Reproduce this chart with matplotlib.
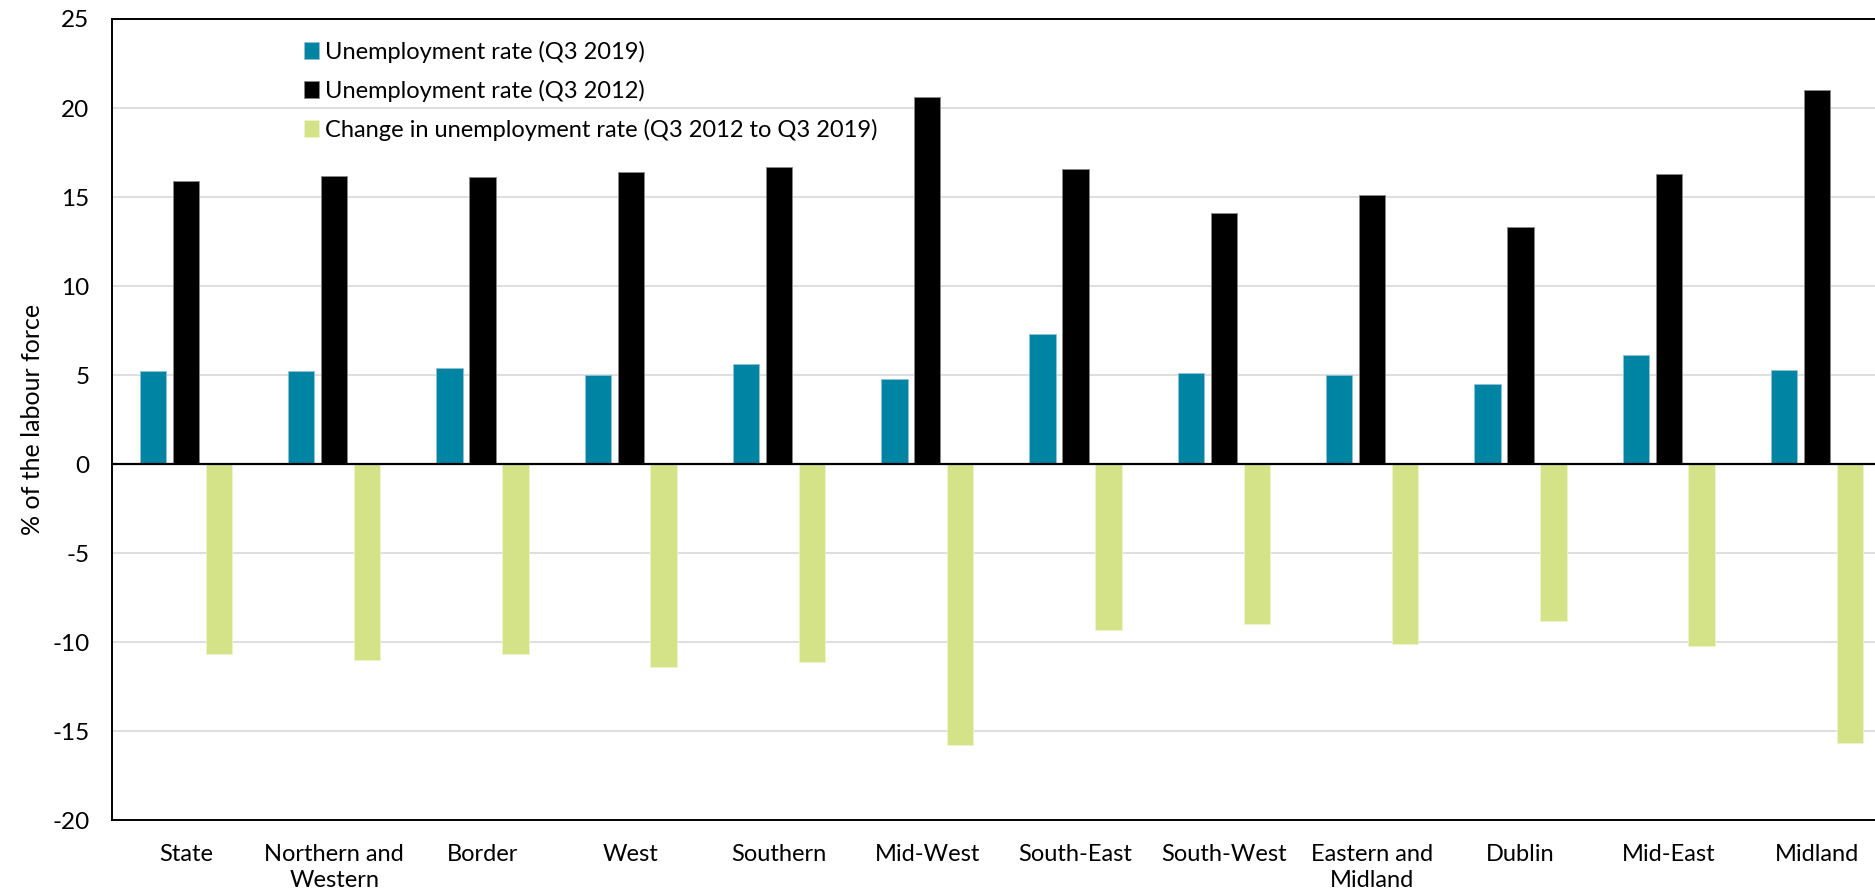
import numpy as np
import matplotlib
matplotlib.use("Agg")
import matplotlib.pyplot as plt

plt.rcParams['font.family'] = ['Lato', 'DejaVu Sans']
plt.rcParams['axes.unicode_minus'] = False

regions = ["State", "Northern and\nWestern", "Border", "West", "Southern", "Mid-West",
           "South-East", "South-West", "Eastern and\nMidland", "Dublin", "Mid-East", "Midland"]
rate_2019 = [5.2, 5.2, 5.4, 5.0, 5.6, 4.8, 7.3, 5.1, 5.0, 4.5, 6.1, 5.3]
rate_2012 = [15.9, 16.2, 16.1, 16.4, 16.7, 20.6, 16.6, 14.1, 15.1, 13.3, 16.3, 21.0]
change = [-10.7, -11.0, -10.7, -11.4, -11.1, -15.8, -9.3, -9.0, -10.1, -8.8, -10.2, -15.7]
series_names = ["Unemployment rate (Q3 2019)", "Unemployment rate (Q3 2012)",
                "Change in unemployment rate (Q3 2012 to Q3 2019)"]

fig = plt.figure(figsize=(18.75, 8.92), dpi=100)
# axes runs slightly past the right edge, like the source crop
ax = fig.add_axes([0.0596, 0.0807, 0.949, 0.898])

x = np.arange(len(regions))
w = 0.178
off = 0.222
ax.bar(x - off, rate_2019, w, color='#0084a3', edgecolor='#8fc3d2', linewidth=0.6,
       label=series_names[0], zorder=3)
ax.bar(x, rate_2012, w, color='black', edgecolor='#888888', linewidth=0.6,
       label=series_names[1], zorder=3)
ax.bar(x + off, change, w, color='#d4e388', edgecolor='#eef4c8', linewidth=0.6,
       label=series_names[2], zorder=3)

ax.set_xlim(-0.5, len(regions) - 0.5)
ax.set_ylim(-20, 25)
ax.set_yticks(np.arange(-20, 26, 5))
ax.set_xticks(x)
ax.set_xticklabels(regions, fontsize=17, linespacing=1.32)
ax.tick_params(axis='y', length=0, pad=16, labelsize=17.5)
ax.tick_params(axis='x', length=0, pad=17)

ax.grid(axis='y', color='#d9d9d9', linewidth=1.2, zorder=0)
ax.axhline(0, color='black', linewidth=1.6, zorder=4)
for s in ['left', 'bottom', 'top']:
    ax.spines[s].set_linewidth(1.4)
ax.spines['right'].set_visible(False)

ax.set_ylabel("% of the labour force", fontsize=18, labelpad=6)

ax.legend(loc='upper left', bbox_to_anchor=(0.103, 0.985), frameon=False, fontsize=17,
          handlelength=0.6, handleheight=0.75, handletextpad=0.25, labelspacing=0.72,
          borderaxespad=0)

fig.savefig("out.png", dpi=100)
